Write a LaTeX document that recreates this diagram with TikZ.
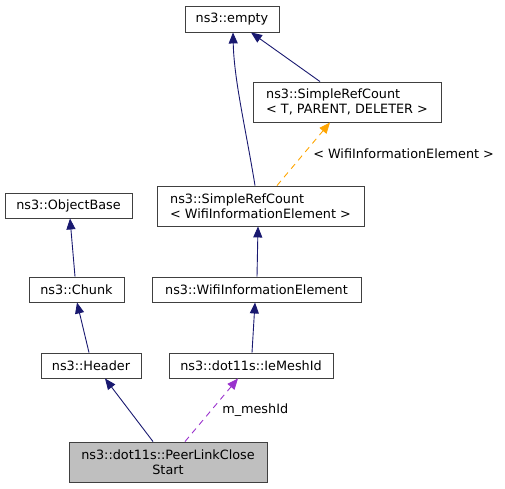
\documentclass[tikz,border=0pt]{standalone}
\usepackage{fontspec}
\setmainfont{DejaVu Sans}
\usetikzlibrary{arrows.meta}
\definecolor{inhColor}{RGB}{25,25,112}
\definecolor{useColor}{RGB}{154,50,205}
\definecolor{tplColor}{RGB}{255,165,0}
\tikzset{
    classbox/.style={
        draw=black!75,
        line width=0.9pt,
        fill=white,
        inner sep=0pt,
        font=\fontsize{12.8}{15}\selectfont
    },
    inh/.style={
        -{Triangle[length=11pt,width=9pt]},
        draw=inhColor,
        line width=0.9pt
    },
    usage/.style={
        -{Triangle[length=11pt,width=9pt]},
        draw=useColor,
        line width=0.9pt,
        dash pattern=on 6pt off 5pt
    },
    tpl/.style={
        -{Triangle[length=11pt,width=9pt]},
        draw=tplColor,
        line width=0.9pt,
        dash pattern=on 6pt off 5pt
    },
    edgelabel/.style={
        font=\fontsize{12.8}{15}\selectfont,
        anchor=west,
        text=black
    }
}
\begin{document}
\begin{tikzpicture}[x=1pt, y=-1pt]
    \useasboundingbox (0,0) rectangle (505,488);
    \node[classbox, minimum width=94pt, minimum height=26pt] (empty) at (232,19) {ns3::empty};
    \node[classbox, minimum width=188pt, minimum height=40pt, align=left] (srcT) at (347,102) {ns3::SimpleRefCount\\< T, PARENT, DELETER >};
    \node[classbox, minimum width=207pt, minimum height=40pt, align=left] (srcWie) at (260.5,206) {ns3::SimpleRefCount\\< WifiInformationElement >};
    \node[classbox, minimum width=127pt, minimum height=25pt] (objbase) at (68.5,205.5) {ns3::ObjectBase};
    \node[classbox, minimum width=95pt, minimum height=25pt] (chunk) at (76.5,289.5) {ns3::Chunk};
    \node[classbox, minimum width=209pt, minimum height=25pt] (wie) at (256.5,289.5) {ns3::WifiInformationElement};
    \node[classbox, minimum width=100pt, minimum height=25pt] (header) at (91,365.5) {ns3::Header};
    \node[classbox, minimum width=164pt, minimum height=25pt] (iemesh) at (251,365.5) {ns3::dot11s::IeMeshId};
    \node[classbox, fill=black!25, minimum width=198pt, minimum height=40pt, align=center] (plcs) at (168,462) {ns3::dot11s::PeerLinkClose\\Start};

    % Vererbung
    \draw[inh] ([xshift=-15pt]plcs.north) -- ([xshift=14pt]header.south);
    \draw[inh] ([xshift=-2pt]header.north) -- ([xshift=0.5pt]chunk.south);
    \draw[inh] ([xshift=-1.5pt]chunk.north) -- ([xshift=1.5pt]objbase.south);
    \draw[inh] ([xshift=1pt]iemesh.north) -- ([xshift=-1.5pt]wie.south);
    \draw[inh] ([xshift=0.5pt]wie.north) -- ([xshift=-2.5pt]srcWie.south);
    \draw[inh] ([xshift=-5.5pt]srcWie.north) .. controls (246,130) and (234,80) .. ([xshift=1pt]empty.south);
    \draw[inh] ([xshift=-27pt]srcT.north) -- ([xshift=19pt]empty.south);

    % Member und Template
    \draw[usage] ([xshift=17pt]plcs.north) -- node[edgelabel, xshift=7pt] {m\_meshId} ([xshift=-13pt]iemesh.south);
    \draw[tpl] ([xshift=16.5pt]srcWie.north) -- node[edgelabel, xshift=6pt] {< WifiInformationElement >} ([xshift=-17pt]srcT.south);
\end{tikzpicture}
\end{document}
